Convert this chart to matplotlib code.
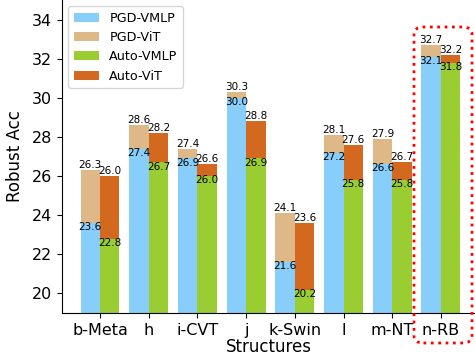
import numpy as np
import matplotlib
matplotlib.use('Agg')
import matplotlib.pyplot as plt
from matplotlib.patches import FancyBboxPatch

#data
structures = ['b-Meta', 'h', 'i-CVT', 'j', 'k-Swin', 'l', 'm-NT', 'n-RB']
pgd_vmlp = [23.6, 27.4, 26.9, 30.0, 21.6, 27.2, 26.6, 32.1]
pgd_vit = [26.3, 28.6, 27.4, 30.3, 24.1, 28.1, 27.9, 32.7]
auto_vmlp = [22.8, 26.7, 26.0, 26.9, 20.2, 25.8, 25.8, 31.8]
auto_vit = [26.0, 28.2, 26.6, 28.8, 23.6, 27.6, 26.7, 32.2]

fig = plt.figure(figsize=(4.75, 3.56), dpi=100)
ax = fig.add_axes([62/475, 1 - 313/356, 413/475, 313/356])

x = np.arange(len(structures))
w = 0.4

#ViT bars behind, VMLP bars in front
b_pv = ax.bar(x - w/2, pgd_vit, w, color='burlywood', label='PGD-ViT')
b_pm = ax.bar(x - w/2, pgd_vmlp, w, color='lightskyblue', label='PGD-VMLP')
b_av = ax.bar(x + w/2, auto_vit, w, color='chocolate', label='Auto-ViT')
b_am = ax.bar(x + w/2, auto_vmlp, w, color='yellowgreen', label='Auto-VMLP')

#value labels
for xs, vals, dy, va in [(x - w/2, pgd_vit, 0, 'bottom'), (x - w/2, pgd_vmlp, -3, 'center'),
                         (x + w/2, auto_vit, 0, 'bottom'), (x + w/2, auto_vmlp, -3, 'center')]:
    for xi, v in zip(xs, vals):
        ax.annotate(f'{v:.1f}', (xi, v), textcoords='offset points', xytext=(0, dy),
                    ha='center', va=va, fontsize=7.5)

ax.set_ylim(19, 35)
ax.set_xlim(-0.78, 7.7)
ax.set_yticks(np.arange(20, 35, 2))
ax.set_xticks(x)
ax.set_xticklabels(structures)
ax.tick_params(labelsize=11.5)
ax.set_xlabel('Structures', fontsize=12, labelpad=0)
ax.set_ylabel('Robust Acc', fontsize=12, labelpad=6)
ax.spines['top'].set_visible(False)
ax.spines['right'].set_visible(False)

handles = [b_pm, b_pv, b_am, b_av]
ax.legend(handles, [h.get_label() for h in handles], loc='upper left', fontsize=9.2,
          bbox_to_anchor=(0.0, 1.0))

#red dotted box round n-RB
box = FancyBboxPatch((414/475, 1 - 343/356), 58/475, 316/356, transform=fig.transFigure,
                     boxstyle='round,pad=0,rounding_size=0.02', fill=False,
                     edgecolor='red', linestyle=':', linewidth=2, clip_on=False)
fig.patches.append(box)

plt.savefig('out.png')
